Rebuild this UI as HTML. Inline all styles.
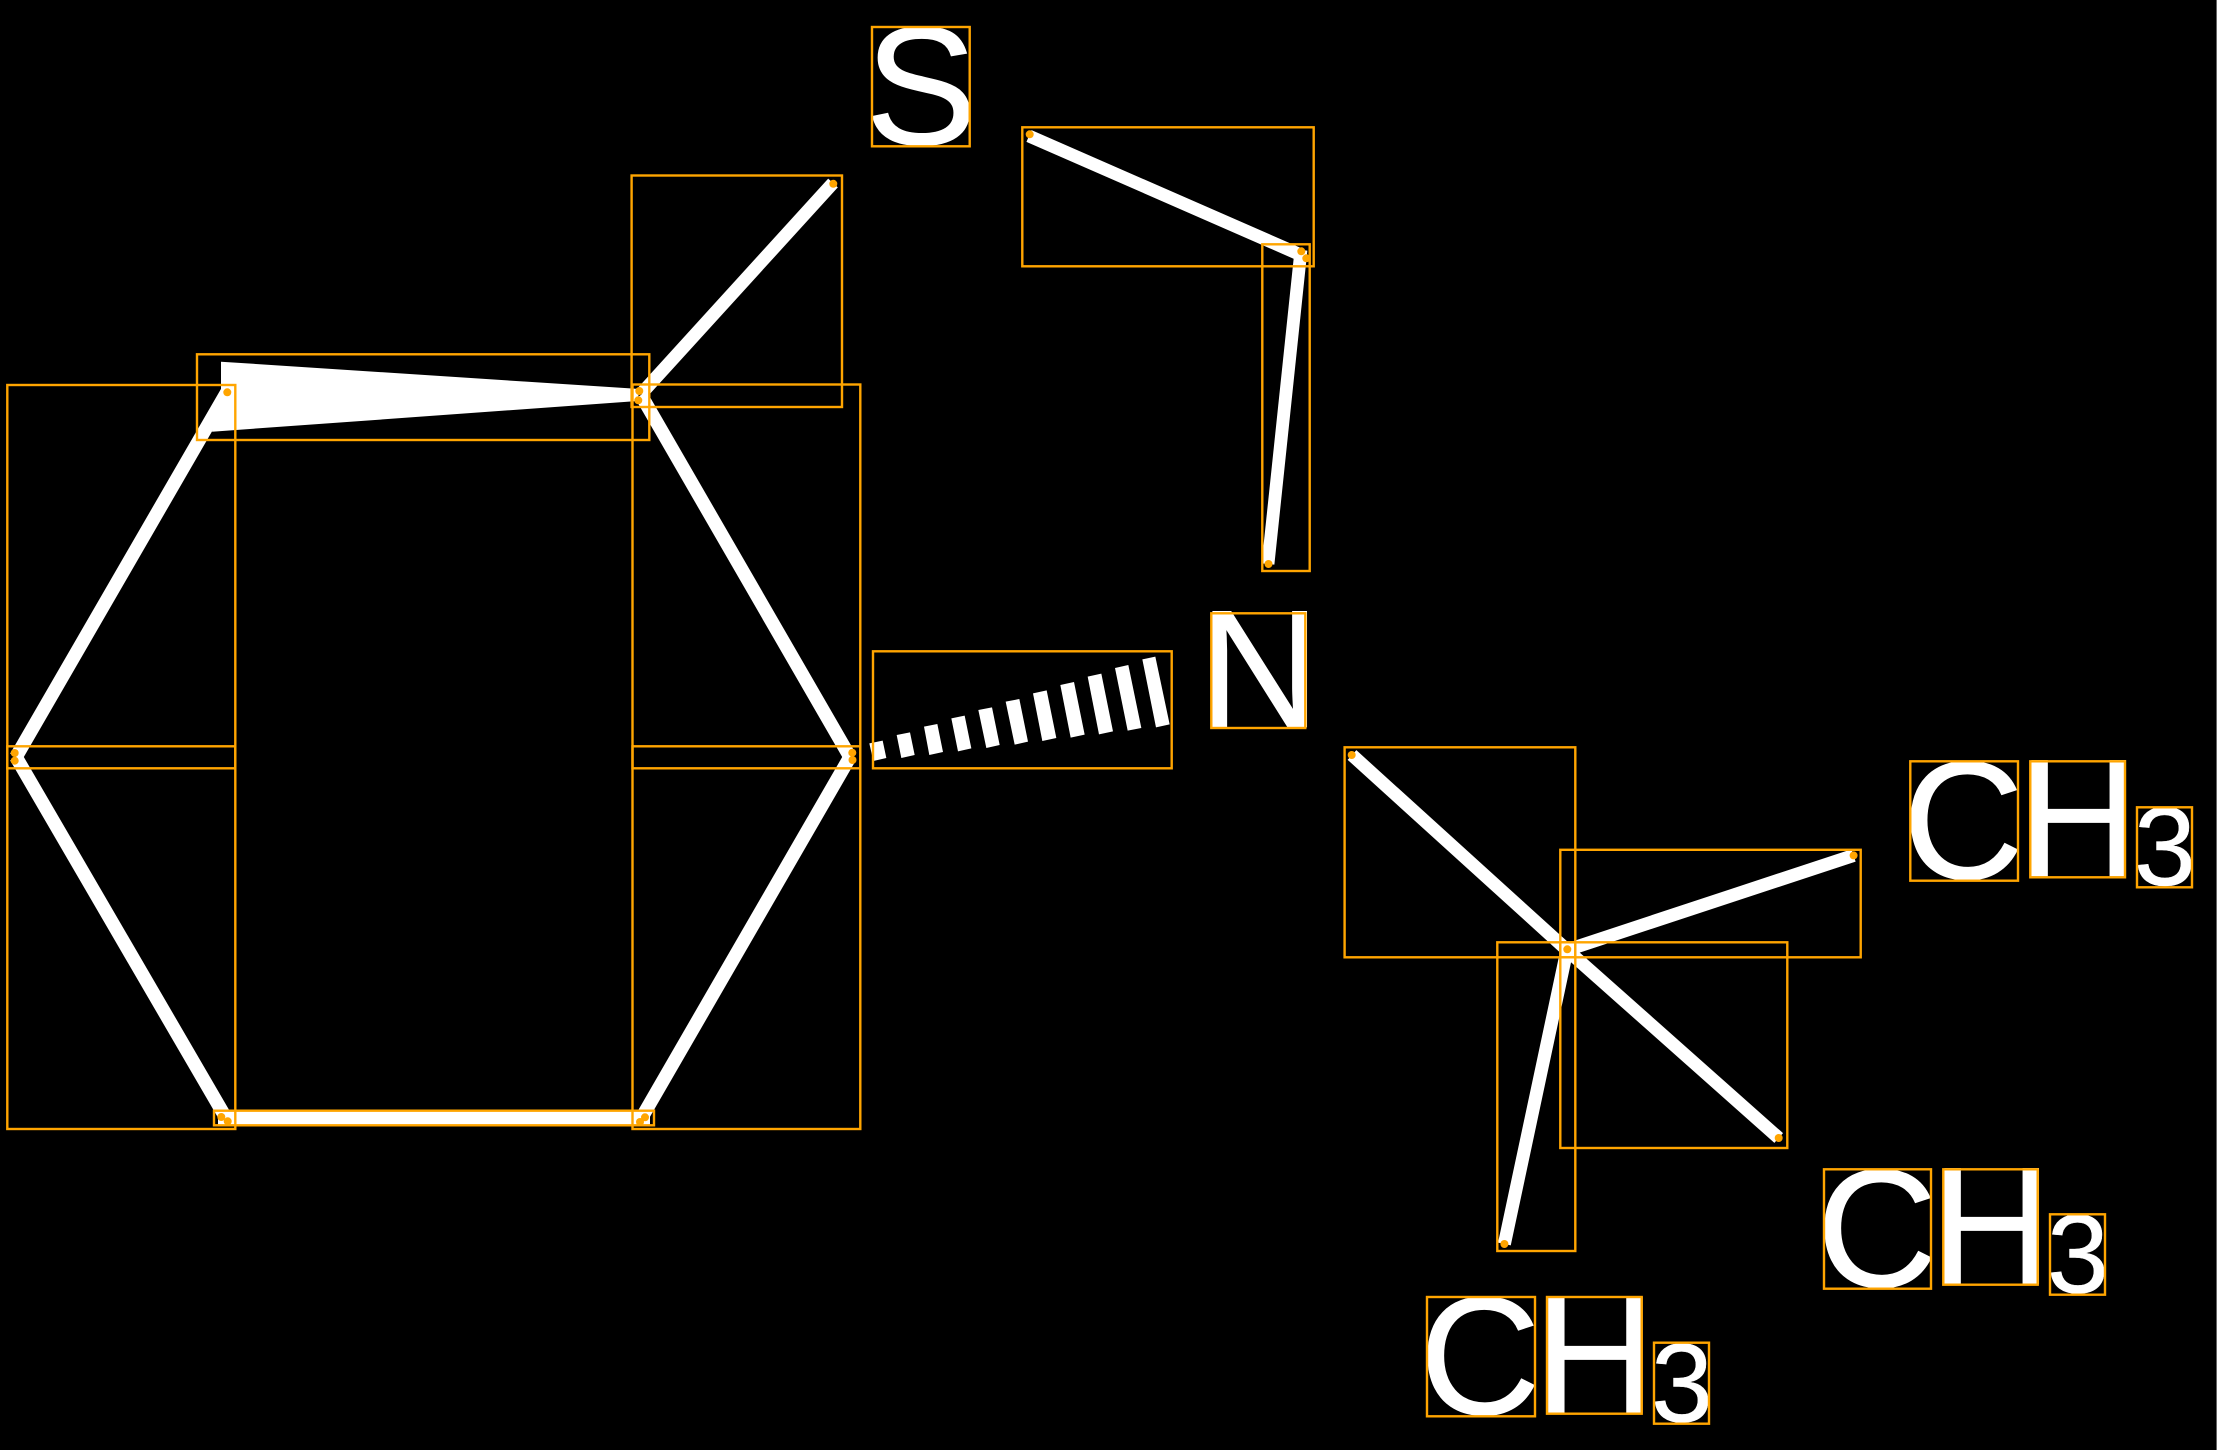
<!DOCTYPE html>
<html><head><meta charset="utf-8"><style>
html,body{margin:0;padding:0;background:#000;width:2217px;height:1450px;overflow:hidden}
svg{display:block}
text{font-family:"Liberation Sans",sans-serif;fill:#fff;text-rendering:geometricPrecision;stroke:#fff;stroke-width:.8px}
.b{font-size:168px}.s{font-size:112px;stroke-width:.4px}
</style></head><body>
<svg xmlns="http://www.w3.org/2000/svg" width="2217" height="1450" viewBox="0 0 2217 1450">
<rect width="2217" height="1450" fill="#000"/>
<rect x="2216" y="0" width="1" height="1450" fill="#666"/>
<g stroke="#fff" stroke-width="13.5" fill="none">
<line x1="227" y1="392" x2="16" y2="757"/>
<line x1="16" y1="757" x2="226" y2="1118"/>
<line x1="218" y1="1118" x2="650" y2="1118" stroke-width="13"/>
<line x1="641.5" y1="1118" x2="850" y2="757"/>
<line x1="850" y1="757" x2="641" y2="395"/>
<line x1="641" y1="394" x2="833" y2="183" stroke-width="13"/>
<polyline points="1029,136 1301,255" stroke-width="12.8"/>
<line x1="1301" y1="250" x2="1268" y2="564" stroke-width="12.8"/>
<line x1="1352" y1="755" x2="1567" y2="950" stroke-width="13"/>
<line x1="1567" y1="950" x2="1853.6" y2="855.4" stroke-width="13"/>
<line x1="1567" y1="950" x2="1504.4" y2="1244" stroke-width="13"/>
<line x1="1567" y1="950" x2="1778.7" y2="1138" stroke-width="13"/>
</g>
<polygon points="221,361.7 639,389 638,401 212,431.7 221,400" fill="#fff"/>
<g fill="#fff" transform="translate(860,600) scale(0.33333)">
<polygon points="28,430 68,422 79,474 40,483"/>
<polygon points="110,405 150,397 164,465 124,474"/>
<polygon points="192,380 232,372 249,456 208,465"/>
<polygon points="274,355 314,347 334,445 294,454"/>
<polygon points="355,330 396,322 419,435 379,444"/>
<polygon points="437,305 478,297 504,425 464,434"/>
<polygon points="519,280 560,271 589,414 547,423"/>
<polygon points="601,255 642,246 674,404 632,413"/>
<polygon points="683,230 724,221 759,394 717,403"/>
<polygon points="765,204 805,195 844,384 803,392"/>
<polygon points="847,178 886,170 929,373 888,382"/>
</g>
<text class="b" x="865" y="144">S</text>
<text class="b" x="1199" y="727">N</text>
<text class="b" x="1902.6" y="878.5">C</text>
<text class="b" x="2018" y="876">H</text>
<text class="s" x="2133.7" y="885">3</text>
<text class="b" x="1816.3" y="1286.5">C</text>
<text class="b" x="1931" y="1284">H</text>
<text class="s" x="2046.7" y="1292.5">3</text>
<text class="b" x="1419.3" y="1414">C</text>
<text class="b" x="1534.7" y="1413">H</text>
<text class="s" x="1650.7" y="1421.5">3</text>
<g fill="none" stroke="#FFA500" stroke-width="2.4">
<rect x="631.6" y="175.5" width="210.4" height="231.5"/>
<rect x="197" y="354.3" width="452.3" height="85.7"/>
<rect x="7.3" y="385" width="228" height="383.3"/>
<rect x="7.3" y="746.3" width="228" height="382.7"/>
<rect x="632.5" y="384.5" width="227.8" height="383.8"/>
<rect x="632.5" y="746.3" width="227.8" height="382.7"/>
<rect x="214" y="1110.7" width="440" height="14.6"/>
<rect x="873" y="651.3" width="298.7" height="117"/>
<rect x="1211.3" y="613.3" width="94" height="114.7"/>
<rect x="872" y="27" width="97.7" height="119.3"/>
<rect x="1022.3" y="127.3" width="291.4" height="139"/>
<rect x="1262.3" y="244.3" width="47.4" height="326.7"/>
<rect x="1344.6" y="747.3" width="230.7" height="210"/>
<rect x="1560.3" y="849.8" width="300.4" height="107.5"/>
<rect x="1497.3" y="942.3" width="78" height="308.7"/>
<rect x="1560.3" y="942.3" width="227" height="205.7"/>
<rect x="1910.3" y="761.3" width="107.7" height="119.4"/>
<rect x="2030.3" y="761.3" width="94.7" height="116"/>
<rect x="2137" y="807.3" width="55" height="80"/>
<rect x="1824" y="1169.3" width="107" height="119.4"/>
<rect x="1943.3" y="1169.3" width="94.4" height="115.4"/>
<rect x="2050" y="1214.3" width="55" height="80.4"/>
<rect x="1427" y="1297" width="108" height="119.3"/>
<rect x="1547" y="1297" width="94.7" height="116.7"/>
<rect x="1654" y="1342.7" width="55" height="81"/>
</g>
<g fill="#FFA500">
<circle cx="227.3" cy="392.3" r="4"/>
<circle cx="639.3" cy="391" r="4"/>
<circle cx="638.3" cy="400.3" r="4"/>
<circle cx="833.3" cy="183.8" r="4"/>
<circle cx="14.7" cy="753" r="4"/>
<circle cx="14.7" cy="760.7" r="4"/>
<circle cx="221.3" cy="1117" r="4"/>
<circle cx="227.7" cy="1121.3" r="4"/>
<circle cx="852.3" cy="752.7" r="4"/>
<circle cx="852.5" cy="760" r="4"/>
<circle cx="645" cy="1117.3" r="4"/>
<circle cx="640" cy="1122" r="4"/>
<circle cx="1029.7" cy="134.3" r="4"/>
<circle cx="1301.3" cy="251.3" r="4"/>
<circle cx="1306.3" cy="258.3" r="4"/>
<circle cx="1268.5" cy="564" r="4"/>
<circle cx="1351.7" cy="755" r="4"/>
<circle cx="1567.3" cy="949.3" r="4"/>
<circle cx="1853.6" cy="855.4" r="4"/>
<circle cx="1504.4" cy="1244" r="4"/>
<circle cx="1778.7" cy="1138" r="4"/>
</g>
</svg>
</body></html>
